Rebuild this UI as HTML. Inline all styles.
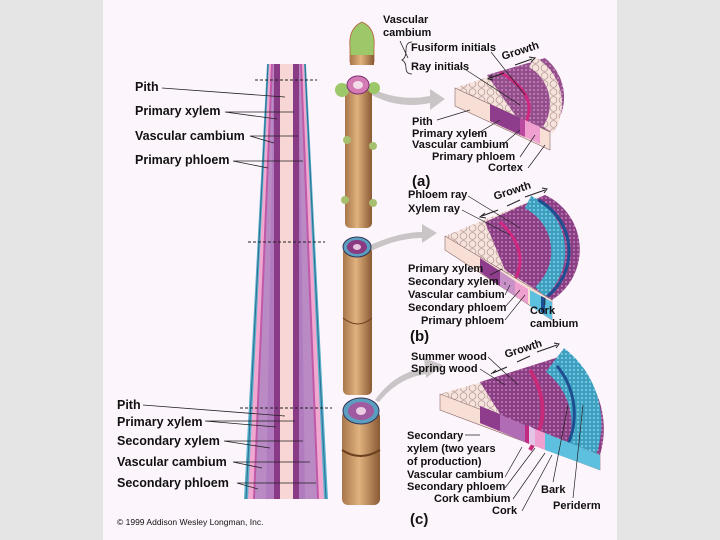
<!DOCTYPE html>
<html><head><meta charset="utf-8"><style>
html,body{margin:0;padding:0}
body{width:720px;height:540px;background:#e5e5e5;position:relative;overflow:hidden;font-family:"Liberation Sans",Arial,sans-serif}
svg{position:absolute;left:0;top:0}
text{font-family:"Liberation Sans",Arial,sans-serif;font-weight:bold;font-size:11px;fill:#111}
text.l{font-size:12.5px}
</style></head><body>
<svg width="720" height="540" viewBox="0 0 720 540">
<defs>
<linearGradient id="bark" x1="0" x2="1"><stop offset="0" stop-color="#a8764a"/><stop offset="0.45" stop-color="#e0b27e"/><stop offset="1" stop-color="#8a5a34"/></linearGradient>
<pattern id="cells" width="9" height="8" patternUnits="userSpaceOnUse"><rect width="9" height="8" fill="#f6e4dc"/><circle cx="4.5" cy="4" r="3.4" fill="none" stroke="#b79a9a" stroke-width="0.8"/></pattern>
<pattern id="purp" width="4" height="4" patternUnits="userSpaceOnUse"><rect width="4" height="4" fill="#8a3f84"/><circle cx="2" cy="2" r="1" fill="#c07cb9"/></pattern>
<pattern id="blue" width="4" height="4" patternUnits="userSpaceOnUse"><rect width="4" height="4" fill="#3d9fc0"/><circle cx="2" cy="2" r="1" fill="#86d0e4"/></pattern>
</defs>
<rect x="103" y="0" width="514" height="540" fill="#fdf5fc"/>

<!-- tapering column -->
<polygon points="267,64 306,64 328,499 244,499" fill="#5ab0cc"/>
<polygon points="269,64 304,64 324,499 248,499" fill="#f0a8d0"/>
<polygon points="271,64 302,64 319,499 253,499" fill="#c05aa8"/>
<polygon points="273,64 300,64 317,499 255,499" fill="#b98ac4"/>
<polygon points="274,64 299,64 305,499 266,499" fill="#b07bbf"/>
<polygon points="274,64 299,64 299,499 274,499" fill="#8a3b86"/>
<polygon points="280,64 293,64 293,499 280,499" fill="#f8d6d6"/>
<line x1="305" y1="64" x2="326" y2="499" stroke="#2a6f90" stroke-width="1"/>
<line x1="268" y1="64" x2="246" y2="499" stroke="#2a6f90" stroke-width="1"/>
<g stroke="#222" stroke-width="1" stroke-dasharray="3,2"><line x1="255" y1="80" x2="317" y2="80"/><line x1="248" y1="242" x2="325" y2="242"/><line x1="240" y1="408" x2="332" y2="408"/></g>

<!-- left labels -->
<g>
<text class="l" x="135" y="91">Pith</text>
<text class="l" x="135" y="115">Primary xylem</text>
<text class="l" x="135" y="140">Vascular cambium</text>
<text class="l" x="135" y="164">Primary phloem</text>
<text class="l" x="117" y="409">Pith</text>
<text class="l" x="117" y="426">Primary xylem</text>
<text class="l" x="117" y="445">Secondary xylem</text>
<text class="l" x="117" y="466">Vascular cambium</text>
<text class="l" x="117" y="487">Secondary phloem</text>
<text x="117" y="525" style="font-weight:normal;font-size:8.5px">© 1999 Addison Wesley Longman, Inc.</text>
</g>
<g stroke="#222" stroke-width="0.8" fill="none">
<path d="M162,88 L285,97"/><path d="M225,112 L294,112 M225,112 L277,119"/>
<path d="M250,136 L298,136 M250,136 L274,143"/><path d="M233,161 L303,161 M233,161 L268,168"/>
<path d="M143,405 L285,416"/><path d="M205,421 L295,421 M205,421 L276,427"/>
<path d="M224,441 L303,441 M224,441 L270,448"/><path d="M233,462 L310,462 M233,462 L262,468"/>
<path d="M237,483 L316,483 M237,483 L258,489"/>
</g>

<!-- gray arrows -->
<g fill="#c9c4c6">
<path d="M370,88 Q400,102 430,96 L430,89 L445,99 L430,110 L430,103 Q398,110 368,93 Z"/>
<path d="M370,245 Q400,232 422,232 L422,224 L437,233 L422,243 L422,238 Q398,238 371,251 Z"/>
<path d="M375,400 Q395,372 425,368 L424,358 L443,365 L426,378 L426,374 Q398,378 379,402 Z"/>
</g>

<!-- stems -->
<rect x="345" y="85" width="27" height="143" rx="5" fill="url(#bark)"/>
<path d="M350,48 Q348,28 362,22 Q376,28 374,48 L374,62 L350,62 Z" fill="#9cc86a" stroke="#b5603a" stroke-width="0.8"/>
<rect x="350" y="55" width="24" height="10" fill="url(#bark)"/>
<circle cx="342" cy="90" r="7" fill="#9cc86a"/><circle cx="374" cy="88" r="6" fill="#9cc86a"/>
<circle cx="347" cy="140" r="4" fill="#a6c070"/><circle cx="373" cy="146" r="4" fill="#a6c070"/>
<circle cx="345" cy="200" r="4" fill="#a6c070"/><circle cx="373" cy="203" r="4" fill="#a6c070"/>
<ellipse cx="358" cy="85" rx="11" ry="9" fill="#d47bb5" stroke="#7a3070"/><ellipse cx="358" cy="85" rx="5" ry="4" fill="#f3dbe8"/>
<rect x="343" y="247" width="29" height="148" rx="5" fill="url(#bark)"/>
<path d="M343,318 Q358,330 372,318" stroke="#6a4020" fill="none"/>
<ellipse cx="357" cy="247" rx="14" ry="10" fill="#5a9ec0" stroke="#335"/><ellipse cx="357" cy="247" rx="10" ry="7" fill="#8a3a80"/><ellipse cx="357" cy="247" rx="4" ry="3" fill="#e8c8e0"/>
<rect x="342" y="411" width="38" height="94" rx="6" fill="url(#bark)"/>
<path d="M342,450 Q360,462 380,450" stroke="#6a4020" stroke-width="2" fill="none"/>
<ellipse cx="361" cy="411" rx="18" ry="13" fill="#5a9ec0" stroke="#335"/><ellipse cx="361" cy="411" rx="13" ry="9" fill="#a05aa0"/><ellipse cx="361" cy="411" rx="5" ry="4" fill="#eccce4"/>

<!-- wedge (a) -->
<path d="M455,88 L545,58 A50,50 0 0 1 550,132 L550,150 L455,106 Z" fill="url(#cells)"/>
<path d="M487,75 L545,58 A50,50 0 0 1 550,132 L520,122 Z" fill="url(#purp)" opacity="0.9"/>
<path d="M500,72 Q540,95 525,124" stroke="#d02880" stroke-width="3" fill="none"/>
<path d="M532,62 A48,48 0 0 1 548,130" stroke="url(#cells)" stroke-width="12" fill="none"/>
<polygon points="455,88 455,106 550,150 550,132" fill="#f7dfd6" stroke="#8a6a6a" stroke-width="0.6"/>
<polygon points="490,104 520,118 520,135 490,121" fill="#8e3d8c"/>
<polygon points="520,118 525,120 525,137 520,135" fill="#b94aa0"/>
<polygon points="525,120 540,127 540,144 525,137" fill="#f0a0d0"/>

<!-- wedge (b) -->
<path d="M445,236 L545,195 A60,60 0 0 1 552,300 L552,320 L445,250 Z" fill="url(#cells)"/>
<path d="M485,222 L545,195 A60,60 0 0 1 552,300 L505,270 Z" fill="url(#purp)"/>
<path d="M528,202 A55,55 0 0 1 540,292" stroke="url(#blue)" stroke-width="14" fill="none"/>
<path d="M538,200 A58,58 0 0 1 548,296" stroke="#1e4f90" stroke-width="3" fill="none"/>
<path d="M500,222 Q530,250 515,280" stroke="#d02880" stroke-width="3" fill="none"/>
<polygon points="445,236 445,250 552,320 552,300" fill="#f7dfd6" stroke="#8a6a6a" stroke-width="0.6"/>
<polygon points="480,258 500,271 500,286 480,272" fill="#8e3d8c"/>
<polygon points="500,271 515,281 515,296 500,286" fill="#c891c8"/>
<polygon points="515,281 528,289 528,304 515,296" fill="#f0a0d0"/>
<polygon points="530,290 552,302 552,320 530,306" fill="#5ec0df"/>
<polygon points="541,296 545,298 545,314 541,312" fill="#1e4f90"/>

<!-- wedge (c) -->
<path d="M440,394 L560,360 L565,355 A90,90 0 0 1 600,455 L600,470 L440,410 Z" fill="url(#cells)"/>
<path d="M480,382 L565,355 A90,90 0 0 1 600,455 L510,430 Z" fill="url(#purp)"/>
<path d="M555,360 A80,80 0 0 1 580,455" stroke="url(#blue)" stroke-width="30" fill="none"/>
<path d="M557,366 A75,75 0 0 1 565,450" stroke="#1e4f90" stroke-width="3" fill="none"/>
<path d="M530,370 Q555,410 530,450" stroke="#c82a7a" stroke-width="4" fill="none"/>
<polygon points="440,394 440,410 600,470 600,455" fill="#f7dfd6" stroke="#8a6a6a" stroke-width="0.6"/>
<polygon points="480,406 525,425 525,442 480,423" fill="#b06cb4"/>
<polygon points="480,406 500,414 500,431 480,423" fill="#8e3d8c"/>
<polygon points="525,425 529,426 529,444 525,442" fill="#c02a80"/>
<polygon points="529,426 535,429 535,446 529,444" fill="#e2c4e6"/>
<polygon points="535,429 545,433 545,450 535,446" fill="#f0a0d0"/>
<polygon points="545,433 600,455 600,470 545,450" fill="#5ec0df"/>

<!-- right labels -->
<text x="383" y="23">Vascular</text>
<text x="383" y="36">cambium</text>
<text x="411" y="51">Fusiform initials</text>
<text x="411" y="70">Ray initials</text>
<path d="M400,41 L408,58 M412,42 Q406,42 406,50 Q406,58 402,60 Q406,62 406,68 Q406,74 412,74" stroke="#222" fill="none" stroke-width="0.8"/>
<text x="0" y="0" transform="translate(503,60) rotate(-18)">Growth</text>
<text x="412" y="125">Pith</text>
<text x="412" y="137">Primary xylem</text>
<text x="412" y="148">Vascular cambium</text>
<text x="432" y="160">Primary phloem</text>
<text x="488" y="171">Cortex</text>
<text x="412" y="186" style="font-size:15px">(a)</text>
<text x="408" y="198">Phloem ray</text>
<text x="408" y="212">Xylem ray</text>
<text x="0" y="0" transform="translate(495,200) rotate(-18)">Growth</text>
<text x="408" y="272">Primary xylem</text>
<text x="408" y="285">Secondary xylem</text>
<text x="408" y="298">Vascular cambium</text>
<text x="408" y="311">Secondary phloem</text>
<text x="421" y="324">Primary phloem</text>
<text x="530" y="314">Cork</text>
<text x="530" y="327">cambium</text>
<text x="410" y="341" style="font-size:15px">(b)</text>
<text x="411" y="360">Summer wood</text>
<text x="411" y="372">Spring wood</text>
<text x="0" y="0" transform="translate(506,358) rotate(-18)">Growth</text>
<text x="407" y="439">Secondary</text>
<text x="407" y="452">xylem (two years</text>
<text x="407" y="465">of production)</text>
<text x="407" y="478">Vascular cambium</text>
<text x="407" y="490">Secondary phloem</text>
<text x="434" y="502">Cork cambium</text>
<text x="492" y="514">Cork</text>
<text x="541" y="493">Bark</text>
<text x="553" y="509">Periderm</text>
<text x="410" y="524" style="font-size:15px">(c)</text>
<g stroke="#222" stroke-width="1" fill="#111">
<path d="M504,73 L490,78 M492,75 L488,79 L493,80 M515,65 L532,59 M529,57 L535,58 L531,62" fill="none"/>
<path d="M498,210 L482,216 M485,213 L480,217 L486,218 M507,206 L520,200 M525,197 L545,190 M542,188 L547,189 L544,193" fill="none"/>
<path d="M507,367 L493,373 M496,370 L491,374 M517,362 L530,356 M537,352 L557,345 M554,343 L559,344 L556,348" fill="none"/>
</g>
<g stroke="#222" stroke-width="0.7" fill="none">
<path d="M491,52 L525,95 M460,66 L520,105"/>
<path d="M437,120 L470,110 M475,135 L500,120 M502,145 L520,130 M520,157 L535,135 M528,168 L545,145"/>
<path d="M468,196 L520,228 M462,210 L510,235"/>
<path d="M502,269 L490,275 M505,282 L505,285 M505,295 L510,285 M505,307 L520,290 M505,320 L525,295 M545,305 L545,298"/>
<path d="M488,357 L518,385 M480,369 L505,385"/>
<path d="M465,435 L480,435 M505,477 L522,447 M505,488 L535,448 M513,499 L545,453 M522,511 L552,455 M553,482 L568,405 M573,498 L583,405"/>
</g>
</svg>
</body></html>
